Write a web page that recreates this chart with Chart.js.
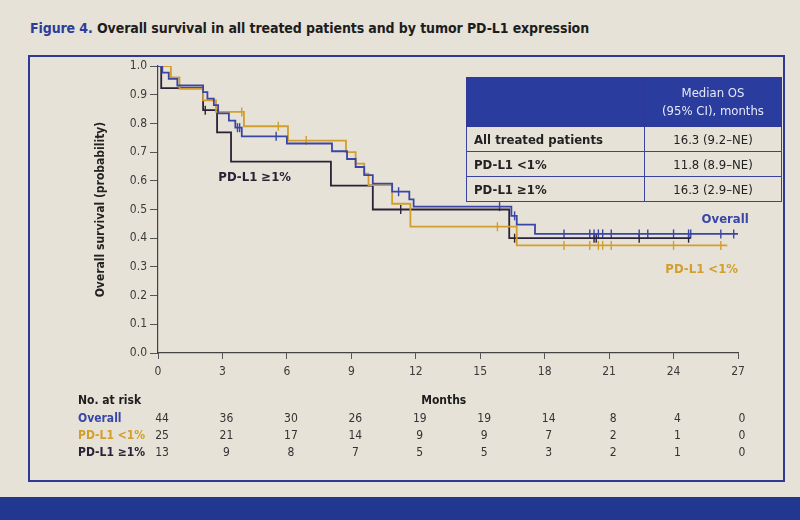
<!DOCTYPE html>
<html>
<head>
<meta charset="utf-8">
<script src="https://cdn.jsdelivr.net/npm/chart.js@4.4.1/dist/chart.umd.min.js"></script>
<style>
  html, body { margin: 0; padding: 0; }
  body {
    width: 800px; height: 520px; position: relative; overflow: hidden;
    background: #e7e2d7;
    font-family: "Liberation Sans Narrow", "DejaVu Sans Condensed", "Liberation Sans", Arial, sans-serif;
  }
  #title { position: absolute; left: 30px; top: 20px; font-size: 14px; font-weight: bold; color: #1d1d1d; white-space: nowrap; letter-spacing: -0.1px; }
  #title span { color: #2d3c9b; }
  #frame { position: absolute; left: 28px; top: 55px; width: 753px; height: 423px; border: 2px solid #2f3797; }
  #band { position: absolute; left: 0; top: 497px; width: 800px; height: 23px; background: #22378f; }
  #km { position: absolute; left: 0; top: 0; }
  #med { position: absolute; left: 466px; top: 77px; width: 316px; border-collapse: collapse; font-size: 13px; color: #222; z-index: 2; }
  #med th { background: #2a3c9e; color: #e6e9f7; font-weight: normal; height: 46px; line-height: 18px; border: 1.5px solid #2f3797; }
  #med td { height: 24px; border: 1.5px solid #3a44a0; padding: 0; }
  #med td.lab { font-weight: bold; padding-left: 7px; width: 170px; }
  #med td.val { text-align: center; }
</style>
</head>
<body>
<div id="title"><span>Figure 4.</span> Overall survival in all treated patients and by tumor PD-L1 expression</div>
<div id="frame"></div>
<div id="band"></div>
<canvas id="km" width="800" height="520"></canvas>
<table id="med">
  <tr><th></th><th>Median OS<br>(95% CI), months</th></tr>
  <tr><td class="lab">All treated patients</td><td class="val">16.3 (9.2–NE)</td></tr>
  <tr><td class="lab">PD-L1 &lt;1%</td><td class="val">11.8 (8.9–NE)</td></tr>
  <tr><td class="lab">PD-L1 ≥1%</td><td class="val">16.3 (2.9–NE)</td></tr>
</table>
<script>
// Kaplan-Meier steps: time (months) and survival after the drop at that time
const overallT = [0, 0.2, 0.5, 0.9, 2.1, 2.3, 2.6, 2.8, 3.3, 3.6, 3.9, 6.0, 8.1, 8.8, 9.2, 9.6, 10.0, 10.9, 11.7, 11.9, 16.45, 16.7, 17.55, 27.0];
const overallS = [1, 0.977, 0.955, 0.932, 0.909, 0.886, 0.864, 0.835, 0.81, 0.785, 0.755, 0.73, 0.703, 0.676, 0.648, 0.62, 0.59, 0.562, 0.535, 0.51, 0.478, 0.447, 0.415, 0.415];
const lowT = [0, 0.6, 1.0, 2.1, 2.7, 4.0, 6.05, 8.75, 9.2, 9.6, 9.8, 10.9, 11.75, 16.7, 26.5];
const lowS = [1, 0.96, 0.92, 0.88, 0.84, 0.79, 0.74, 0.70, 0.66, 0.625, 0.585, 0.52, 0.44, 0.375, 0.375];
const highT = [0, 0.15, 2.1, 2.75, 3.4, 8.05, 10.0, 16.35, 24.8];
const highS = [1, 0.923, 0.846, 0.769, 0.667, 0.583, 0.5, 0.4, 0.4];

// censoring times
const overallCens = [3.7, 3.8, 5.5, 11.2, 15.9, 16.6, 18.9, 20.1, 20.3, 20.5, 20.7, 21.1, 22.4, 22.8, 24.0, 24.7, 24.8, 26.2, 26.8];
const lowCens = [3.9, 5.6, 6.9, 15.8, 18.9, 20.1, 20.5, 20.7, 21.1, 24.0, 26.2];
const highCens = [2.2, 11.3, 16.6, 20.3, 20.4, 22.4, 24.7];

// numbers at risk
const riskTimes = [0, 3, 6, 9, 12, 15, 18, 21, 24, 27];
const riskOverall = [44, 36, 30, 26, 19, 19, 14, 8, 4, 0];
const riskLow = [25, 21, 17, 14, 9, 9, 7, 2, 1, 0];
const riskHigh = [13, 9, 8, 7, 5, 5, 3, 2, 1, 0];

const FONT = '"Liberation Sans Narrow", "DejaVu Sans Condensed", "Liberation Sans", Arial, sans-serif';
const BLUE = '#3a46a6';
const ORANGE = '#d29e2c';
const DARK = '#2a2236';

function stepPoints(times, surv) {
    return times.map((t, i) => ({ x: t, y: surv[i] }));
}

function survAt(times, surv, t) {
    let s = surv[0];
    for (let i = 0; i < times.length; i++) {
        if (times[i] <= t) s = surv[i];
    }
    return s;
}

function censorPoints(cens, times, surv) {
    return cens.map(t => ({ x: t, y: survAt(times, surv, t) }));
}

function curve(label, times, surv, color) {
    return {
        label: label,
        data: stepPoints(times, surv),
        borderColor: color,
        borderWidth: 1.8,
        stepped: true,
        pointRadius: 0,
        fill: false
    };
}

function ticks(label, cens, times, surv, color) {
    return {
        label: label,
        data: censorPoints(cens, times, surv),
        showLine: false,
        pointStyle: 'line',
        rotation: 90,
        pointRadius: 4.5,
        pointBorderWidth: 1.4,
        borderColor: color,
        backgroundColor: color
    };
}

const annotations = {
    id: 'annotations',
    afterDatasetsDraw(chart) {
        const { ctx, scales: { x, y } } = chart;
        ctx.save();
        ctx.font = 'bold 13px ' + FONT;
        ctx.textBaseline = 'middle';
        ctx.textAlign = 'center';
        ctx.fillStyle = DARK;
        ctx.fillText('PD-L1 ≥1%', x.getPixelForValue(4.5), y.getPixelForValue(0.61));
        ctx.textAlign = 'right';
        ctx.fillStyle = BLUE;
        ctx.fillText('Overall', x.getPixelForValue(27.5), y.getPixelForValue(0.463));
        ctx.fillStyle = ORANGE;
        ctx.fillText('PD-L1 <1%', x.getPixelForValue(27.0), y.getPixelForValue(0.289));
        ctx.restore();
    }
};

const riskTable = {
    id: 'riskTable',
    afterDraw(chart) {
        const { ctx, scales: { x } } = chart;
        ctx.save();
        ctx.textBaseline = 'middle';
        ctx.font = 'bold 12px ' + FONT;
        ctx.fillStyle = '#1d1d1d';
        ctx.textAlign = 'left';
        ctx.fillText('No. at risk', 78, 401);
        ctx.textAlign = 'center';
        ctx.fillText('Months', x.getPixelForValue(13.3), 401);

        const rows = [
            { name: 'Overall', vals: riskOverall, color: BLUE, y: 419 },
            { name: 'PD-L1 <1%', vals: riskLow, color: ORANGE, y: 436 },
            { name: 'PD-L1 ≥1%', vals: riskHigh, color: DARK, y: 453 }
        ];
        rows.forEach(r => {
            ctx.font = 'bold 12px ' + FONT;
            ctx.fillStyle = r.color;
            ctx.textAlign = 'left';
            ctx.fillText(r.name, 78, r.y);
            ctx.font = '12px ' + FONT;
            ctx.fillStyle = '#333';
            ctx.textAlign = 'center';
            r.vals.forEach((v, i) => {
                ctx.fillText(String(v), x.getPixelForValue(riskTimes[i]) + 4, r.y);
            });
        });
        ctx.restore();
    }
};

Chart.defaults.font.family = FONT;
Chart.defaults.color = '#3a3a3a';

new Chart(document.getElementById('km'), {
    type: 'line',
    data: {
        datasets: [
            curve('Overall', overallT, overallS, BLUE),
            curve('PD-L1 <1%', lowT, lowS, ORANGE),
            curve('PD-L1 ≥1%', highT, highS, DARK),
            ticks('Overall censored', overallCens, overallT, overallS, BLUE),
            ticks('PD-L1 <1% censored', lowCens, lowT, lowS, ORANGE),
            ticks('PD-L1 ≥1% censored', highCens, highT, highS, DARK)
        ]
    },
    options: {
        responsive: false,
        animation: false,
        layout: { padding: { left: 92, right: 62, top: 66, bottom: 0 } },
        plugins: { legend: { display: false }, tooltip: { enabled: false } },
        scales: {
            x: {
                type: 'linear',
                min: 0,
                max: 27,
                afterFit: s => { s.height = 167; },
                ticks: { stepSize: 3, padding: 6, font: { size: 12 }, color: '#3a3a3a' },
                grid: { display: true, drawOnChartArea: false, drawTicks: true, tickLength: 6, color: '#555' },
                border: { display: true, color: '#444', width: 1.2 }
            },
            y: {
                min: 0,
                max: 1,
                afterFit: s => { s.width = 66; },
                ticks: { stepSize: 0.1, padding: 3, font: { size: 12 }, color: '#3a3a3a', callback: v => v.toFixed(1) },
                grid: { display: true, drawOnChartArea: false, drawTicks: true, tickLength: 8, color: '#555' },
                border: { display: true, color: '#444', width: 1.2 },
                title: { display: true, text: 'Overall survival (probability)', font: { size: 12, weight: 'bold' }, color: '#222', padding: { top: 2, bottom: 2 } }
            }
        }
    },
    plugins: [annotations, riskTable]
});
</script>
</body>
</html>
